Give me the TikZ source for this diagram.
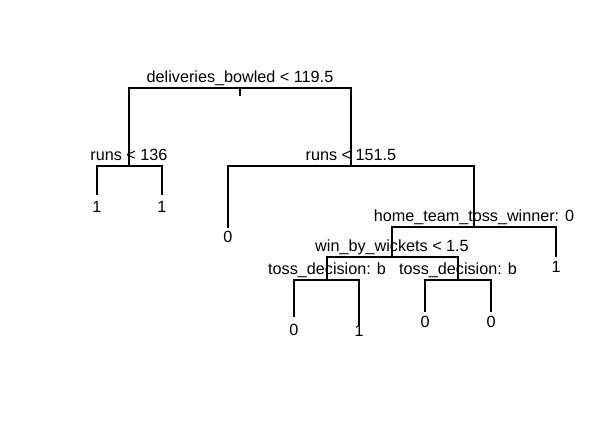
\documentclass[tikz,border=0pt]{standalone}
\usepackage{fontspec}
\setmainfont{Liberation Sans}
\begin{document}
\begin{tikzpicture}[x=1pt,y=-1pt,
  edge/.style={draw=black,line width=1.1pt},
  lbl/.style={anchor=base,inner sep=0pt,font=\fontsize{16.2}{18}\selectfont}]
\useasboundingbox[fill=white] (0,0) rectangle (615,427);
% tree points
\coordinate (r0) at (240,96);
\coordinate (r) at (240,88);
\coordinate (a) at (129,166);
\coordinate (a1) at (97,195);
\coordinate (a2) at (162,195);
\coordinate (b) at (351,166);
\coordinate (b1) at (228,228);
\coordinate (c) at (474,227);
\coordinate (c2) at (556,257);
\coordinate (d) at (392,257);
\coordinate (e) at (327,280);
\coordinate (e1) at (294,317);
\coordinate (e2) at (359,325);
\coordinate (f) at (458,280);
\coordinate (f1) at (425,312);
\coordinate (f2) at (491,312);
% connectors
\draw[edge] (r0) -- (r);
\draw[edge] (r) -| (a);
\draw[edge] (r) -| (b);
\draw[edge] (a) -| (a1);
\draw[edge] (a) -| (a2);
\draw[edge] (b) -| (b1);
\draw[edge] (b) -| (c);
\draw[edge] (c) -| (d);
\draw[edge] (c) -| (c2);
\draw[edge] (d) -| (e);
\draw[edge] (d) -| (f);
\draw[edge] (e) -| (e1);
\draw[edge] (e) -| (e2);
\draw[edge] (f) -| (f1);
\draw[edge] (f) -| (f2);
% split labels
\node[lbl] (lr) at (240,83) {deliveries\_bowled < 119.5};
\node[lbl] (la) at (129,161) {runs < 136};
\node[lbl] (lb) at (351,161) {runs < 151.5};
\node[lbl] (lc) at (474,222) {home\_team\_toss\_winner: 0};
\node[lbl] (ld) at (392,252) {win\_by\_wickets < 1.5};
\node[lbl] (le) at (327,275) {toss\_decision: b};
\node[lbl] (lf) at (458,275) {toss\_decision: b};
% leaf labels
\node[lbl] (la1) at (97,213) {1};
\node[lbl] (la2) at (162,213) {1};
\node[lbl] (lb1) at (228,243) {0};
\node[lbl] (lc2) at (556,273) {1};
\node[lbl] (le1) at (294,335) {0};
\node[lbl] (le2) at (359,336) {1};
\node[lbl] (lf1) at (425,327) {0};
\node[lbl] (lf2) at (491,327) {0};
\end{tikzpicture}
\end{document}
